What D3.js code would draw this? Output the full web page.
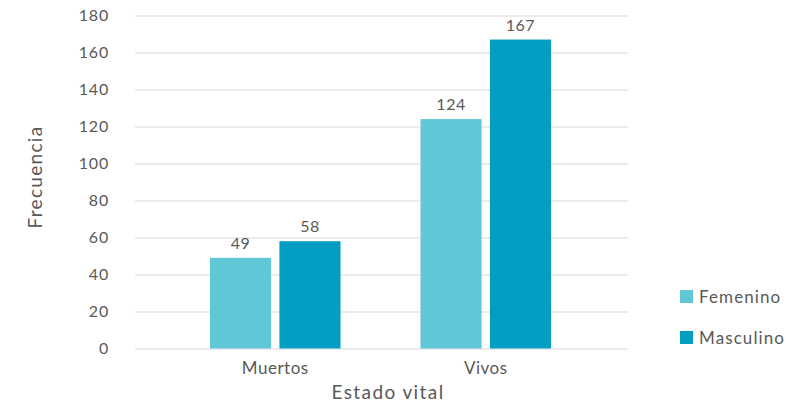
<!DOCTYPE html>
<html>
<head>
<meta charset="utf-8">
<script src="https://cdn.jsdelivr.net/npm/d3@7"></script>
<style>
  body { margin: 0; background: #fff; }
  svg text { font-family: "Lato", "DejaVu Sans", sans-serif; fill: #595959; }
</style>
</head>
<body>
<script>
var categories = ["Muertos", "Vivos"];
var series = ["Femenino", "Masculino"];
var femenino = [49, 124];
var masculino = [58, 167];
var yTicks = [0, 20, 40, 60, 80, 100, 120, 140, 160, 180];
var colors = ["#5fc7d5", "#059ec3"];

var values = [femenino, masculino];

var svg = d3.select("body").append("svg")
    .attr("width", 803)
    .attr("height", 404);

var y = d3.scaleLinear()
    .domain([0, 180])
    .range([348.5, 15.5]);

var x0 = d3.scaleBand()
    .domain(categories)
    .range([170, 591]);

var x1 = d3.scaleBand()
    .domain(series)
    .range([40, x0.bandwidth() - 40])
    .paddingInner(0.12);

// gridlines
var yAxis = d3.axisLeft(y)
    .tickValues(yTicks)
    .tickSize(-(628 - 135))
    .tickPadding(26);

var g = svg.append("g")
    .attr("transform", "translate(135,0)")
    .call(yAxis);
g.select(".domain").remove();
g.selectAll(".tick line").attr("stroke", "#d9d9d9").attr("stroke-width", 1);
g.selectAll(".tick text")
    .style("font-size", "16px")
    .style("letter-spacing", "0.8px")
    .attr("fill", "#595959");

// bars
var groups = svg.append("g").selectAll("g")
    .data(categories)
    .enter().append("g")
    .attr("transform", function (d) { return "translate(" + x0(d) + ",0)"; });

groups.selectAll("rect")
    .data(function (d, i) {
        return series.map(function (s, j) { return { s: s, v: values[j][i], j: j }; });
    })
    .enter().append("rect")
    .attr("x", function (d) { return x1(d.s); })
    .attr("width", x1.bandwidth())
    .attr("y", function (d) { return y(d.v); })
    .attr("height", function (d) { return y(0) - y(d.v); })
    .attr("fill", function (d) { return colors[d.j]; });

groups.selectAll("text.lbl")
    .data(function (d, i) {
        return series.map(function (s, j) { return { s: s, v: values[j][i] }; });
    })
    .enter().append("text")
    .attr("class", "lbl")
    .attr("x", function (d) { return x1(d.s) + x1.bandwidth() / 2; })
    .attr("y", function (d) { return y(d.v) - 9; })
    .attr("text-anchor", "middle")
    .style("font-size", "16px")
    .style("letter-spacing", "0.5px")
    .text(function (d) { return d.v; });

// category labels
svg.append("g").selectAll("text")
    .data(categories)
    .enter().append("text")
    .attr("x", function (d) { return x0(d) + x0.bandwidth() / 2; })
    .attr("y", 374)
    .attr("text-anchor", "middle")
    .style("font-size", "17px")
    .style("letter-spacing", "0.5px")
    .text(function (d) { return d; });

// axis titles
svg.append("text")
    .attr("x", 388)
    .attr("y", 399)
    .attr("text-anchor", "middle")
    .style("font-size", "19px")
    .style("letter-spacing", "1.4px")
    .text("Estado vital");

svg.append("text")
    .attr("transform", "translate(42,177) rotate(-90)")
    .attr("text-anchor", "middle")
    .style("font-size", "19px")
    .style("letter-spacing", "1.3px")
    .text("Frecuencia");

// legend
var legend = svg.append("g").selectAll("g")
    .data(series)
    .enter().append("g")
    .attr("transform", function (d, i) { return "translate(680," + (290 + i * 41) + ")"; });

legend.append("rect")
    .attr("width", 13)
    .attr("height", 13)
    .attr("fill", function (d, i) { return colors[i]; });

legend.append("text")
    .attr("x", 19)
    .attr("y", 13)
    .style("font-size", "17px")
    .style("letter-spacing", "1.1px")
    .text(function (d) { return d; });
</script>
</body>
</html>
